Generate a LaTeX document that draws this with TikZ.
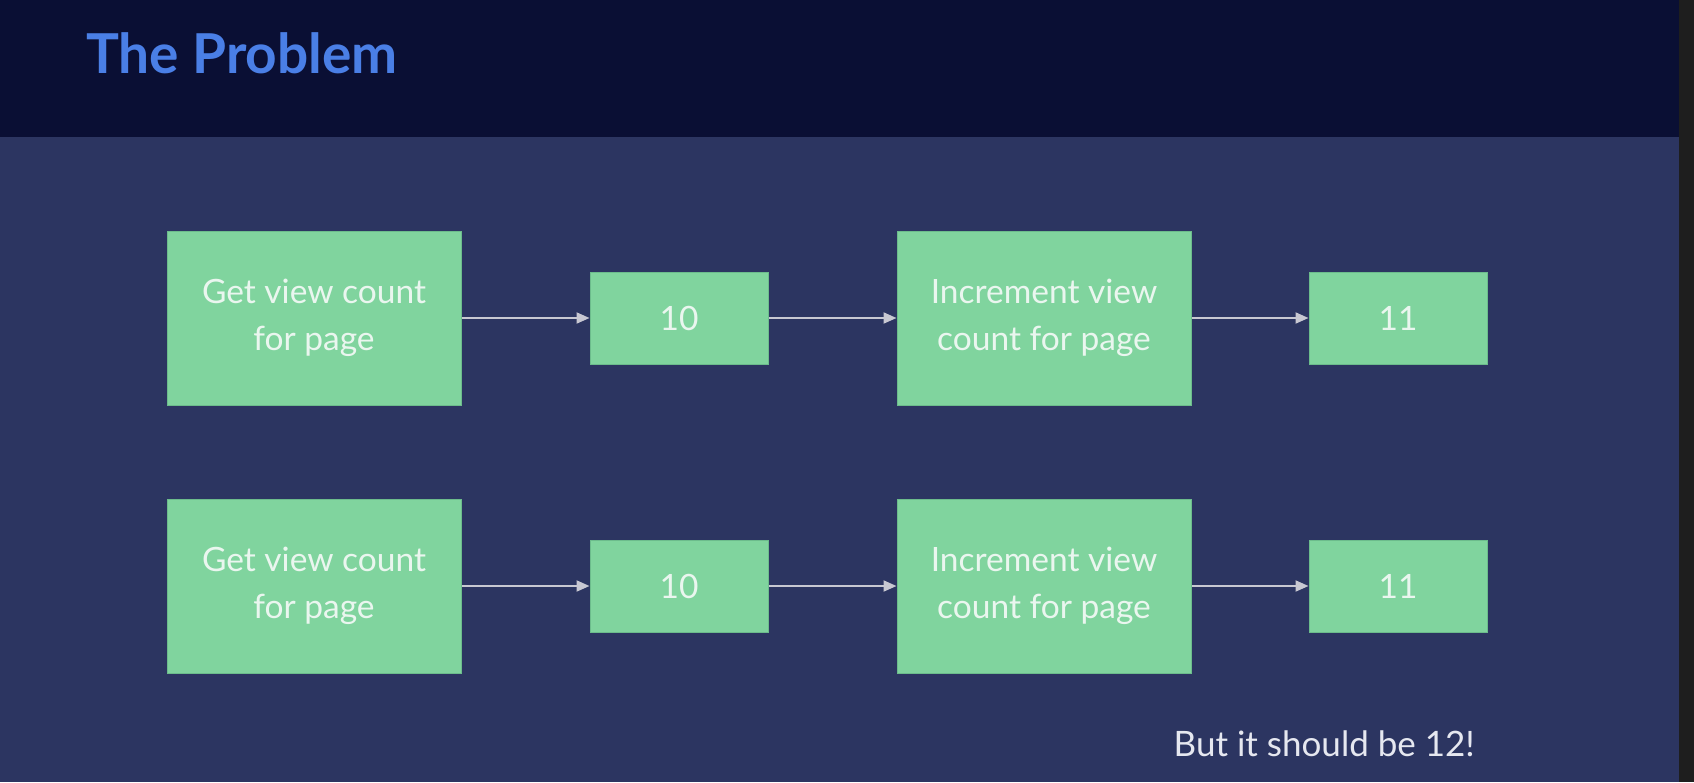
\documentclass[tikz,border=0pt]{standalone}
\usepackage{fontspec}
\setmainfont{Lato}
\usetikzlibrary{arrows.meta}
\definecolor{hdr}{HTML}{0A0F34}
\definecolor{bodybg}{HTML}{2C3561}
\definecolor{strip}{HTML}{1E1E1E}
\definecolor{boxgreen}{HTML}{80D49E}
\definecolor{boxedge}{HTML}{6CBC8C}
\definecolor{titleblue}{HTML}{4A7FE6}
\definecolor{boxtext}{HTML}{EAF6EF}
\definecolor{arrowgray}{HTML}{C8C8D2}
\definecolor{notetext}{HTML}{E6E8F0}
\tikzset{
  bigbox/.style={draw=boxedge, line width=1pt, fill=boxgreen, minimum width=294pt, minimum height=174pt, inner sep=0pt, align=center, text=boxtext, font=\fontsize{33.5}{47.5}\selectfont},
  smallbox/.style={draw=boxedge, line width=1pt, fill=boxgreen, minimum width=178pt, minimum height=92pt, inner sep=0pt, align=center, text=boxtext, font=\fontsize{33.5}{47.5}\selectfont},
  flow/.style={draw=arrowgray, line width=2pt, -{Triangle[length=13pt,width=11pt]}, shorten >=0pt}
}
\begin{document}
\begin{tikzpicture}[x=1pt,y=-1pt]
\useasboundingbox (0,0) rectangle (1694,782);
\fill[bodybg] (0,0) rectangle (1694,782);
\fill[hdr] (0,0) rectangle (1694,137);
\fill[strip] (1679,0) rectangle (1694,782);
\node[anchor=base west, inner sep=0pt, text=titleblue, font=\fontsize{55}{60}\selectfont\bfseries] (title) at (86,73) {The Problem};

\node[bigbox] (a1) at (314,318) {Get view count\\for page};
\node[smallbox] (b1) at (679,318) {10};
\node[bigbox] (c1) at (1044,318) {Increment view\\count for page};
\node[smallbox] (d1) at (1398,318) {11};

\node[bigbox] (a2) at (314,586) {Get view count\\for page};
\node[smallbox] (b2) at (679,586) {10};
\node[bigbox] (c2) at (1044,586) {Increment view\\count for page};
\node[smallbox] (d2) at (1398,586) {11};

\draw[flow] (a1) -- (b1);
\draw[flow] (b1) -- (c1);
\draw[flow] (c1) -- (d1);
\draw[flow] (a2) -- (b2);
\draw[flow] (b2) -- (c2);
\draw[flow] (c2) -- (d2);

\node[anchor=base east, inner sep=0pt, text=notetext, font=\fontsize{35}{40}\selectfont] (note) at (1475,756) {But it should be 12!};
\end{tikzpicture}
\end{document}
